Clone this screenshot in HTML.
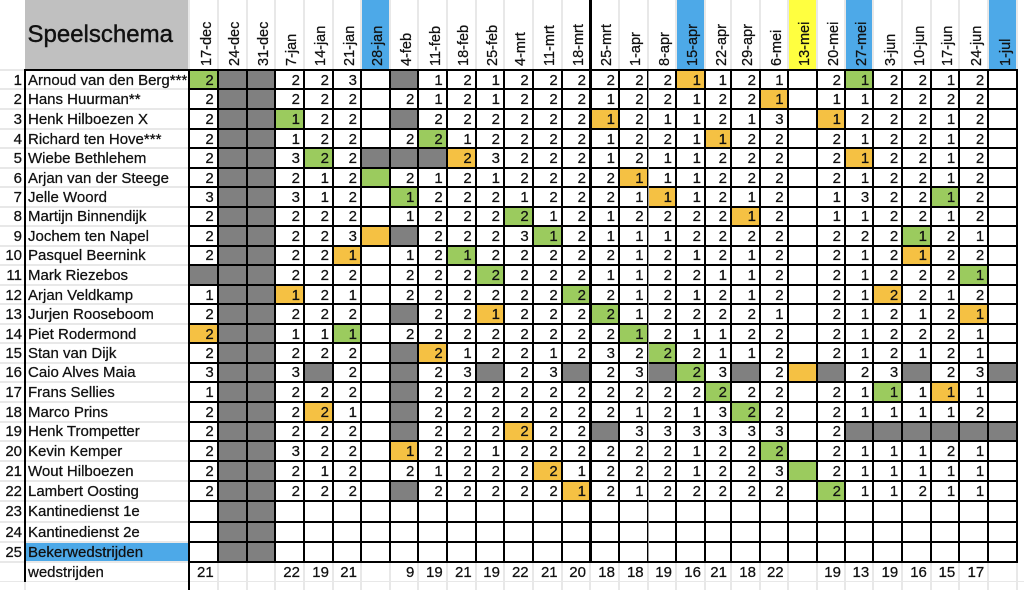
<!DOCTYPE html>
<html><head><meta charset="utf-8"><style>
*{margin:0;padding:0;box-sizing:border-box}
html,body{width:1024px;height:590px;overflow:hidden;background:#fff;font-family:"Liberation Sans",Arial,sans-serif;color:#111}
body{-webkit-text-stroke:0.25px #111}
.ab{position:absolute}
.cols{grid-template-columns:26.7px 27px 26.3px 27px 27px 26px 27px 26.3px 26.4px 27px 26.3px 26.7px 27px 26.3px 27px 26.7px 26.3px 27px 24px 27px 25.7px 27px 26.3px 26.3px 27px 26.7px 26.3px 27px 26.4px}
.rows{grid-template-rows:17.3px 18px 18px 17px 18px 17px 17.4px 17.3px 18px 17px 18px 17.3px 17.7px 17.3px 17.4px 17.6px 17.4px 18px 17.3px 18px 18px 18px 18.7px 18px 18px}
.d{position:absolute;left:188px;top:69px;width:829.7px;height:493.7px;padding:2px;background:#000;display:grid;gap:2px}
.d>*,.w>*{background:#fff;display:flex;align-items:center;justify-content:flex-end;padding-right:3px;padding-top:1px;font-size:15px;font-style:normal;font-weight:normal;text-decoration:none;line-height:1}
.d>u{background:#808080}
.d>em{background:#9bcb5e}
.d>b{background:#f5c143}
.h{position:absolute;left:188px;top:0;width:829.7px;height:69px;padding:0 2px;background:#e8e8e8;display:grid;column-gap:2px}
.h>div{position:relative;background:#fff}
.h>div.bl{background:#4da9e8}
.h>div.ye{background:#ffff40}
.h span{position:absolute;left:8.5px;top:66px;width:66px;height:17px;line-height:17px;font-size:14.5px;white-space:nowrap;transform-origin:0 0;transform:rotate(-90deg)}
.n{position:absolute;left:0;top:69px;width:188px;height:493.7px;padding:2px 0;background:#e8e8e8;display:grid;grid-template-columns:24px 162px;gap:2px}
.n>div{background:#fff;font-size:15px;white-space:nowrap;display:flex;align-items:center;line-height:1;padding-top:1px}
.n>div.r{justify-content:flex-end;padding-right:2px}
.n>div.t{padding-left:2px}
.n>div.be{background:#4da9e8}
.w{position:absolute;left:188px;top:562.7px;width:836px;height:27.3px;padding-left:2px;background:#e8e8e8;display:grid;column-gap:2px;row-gap:1px;grid-template-rows:18.3px 8px}
.w2{grid-template-columns:26.7px 27px 26.3px 27px 27px 26px 27px 26.3px 26.4px 27px 26.3px 26.7px 27px 26.3px 27px 26.7px 26.3px 27px 24px 27px 25.7px 27px 26.3px 26.3px 27px 26.7px 26.3px 27px 26.4px 1fr}
.wl{position:absolute;left:0;top:562.7px;width:188px;height:27.3px;background:#e8e8e8;display:grid;grid-template-columns:24px 162px;column-gap:2px;row-gap:1px;grid-template-rows:18.3px 8px}
.wl>div{background:#fff;font-size:15px;display:flex;align-items:center;padding-left:2px;padding-top:1px;line-height:1}
</style></head><body>

<div class="ab" style="left:25px;top:0;width:164px;height:69px;background:#c0c0c0"></div>
<div class="ab" style="left:27.5px;top:21px;font-size:24px;line-height:28px;white-space:nowrap;-webkit-text-stroke:0.4px #111">Speelschema</div>

<div class="h cols">
<div><span>17-dec</span></div><div><span>24-dec</span></div><div><span>31-dec</span></div><div><span>7-jan</span></div><div><span>14-jan</span></div><div><span>21-jan</span></div><div class="bl"><span>28-jan</span></div><div><span>4-feb</span></div><div><span>11-feb</span></div><div><span>18-feb</span></div><div><span>25-feb</span></div><div><span>4-mrt</span></div><div><span>11-mrt</span></div><div><span>18-mrt</span></div><div><span>25-mrt</span></div><div><span>1-apr</span></div><div><span>8-apr</span></div><div class="bl"><span>15-apr</span></div><div><span>22-apr</span></div><div><span>29-apr</span></div><div><span>6-mei</span></div><div class="ye"><span>13-mei</span></div><div><span>20-mei</span></div><div class="bl"><span>27-mei</span></div><div><span>3-jun</span></div><div><span>10-jun</span></div><div><span>17-jun</span></div><div><span>24-jun</span></div><div class="bl"><span>1-jul</span></div>
</div>

<div class="n rows">
<div class="r">1</div><div class="t">Arnoud van den Berg***</div>
<div class="r">2</div><div class="t">Hans Huurman**</div>
<div class="r">3</div><div class="t">Henk Hilboezen X</div>
<div class="r">4</div><div class="t">Richard ten Hove***</div>
<div class="r">5</div><div class="t">Wiebe Bethlehem</div>
<div class="r">6</div><div class="t">Arjan van der Steege</div>
<div class="r">7</div><div class="t">Jelle Woord</div>
<div class="r">8</div><div class="t">Martijn Binnendijk</div>
<div class="r">9</div><div class="t">Jochem ten Napel</div>
<div class="r">10</div><div class="t">Pasquel Beernink</div>
<div class="r">11</div><div class="t">Mark Riezebos</div>
<div class="r">12</div><div class="t">Arjan Veldkamp</div>
<div class="r">13</div><div class="t">Jurjen Rooseboom</div>
<div class="r">14</div><div class="t">Piet Rodermond</div>
<div class="r">15</div><div class="t">Stan van Dijk</div>
<div class="r">16</div><div class="t">Caio Alves Maia</div>
<div class="r">17</div><div class="t">Frans Sellies</div>
<div class="r">18</div><div class="t">Marco Prins</div>
<div class="r">19</div><div class="t">Henk Trompetter</div>
<div class="r">20</div><div class="t">Kevin Kemper</div>
<div class="r">21</div><div class="t">Wout Hilboezen</div>
<div class="r">22</div><div class="t">Lambert Oosting</div>
<div class="r">23</div><div class="t">Kantinedienst 1e</div>
<div class="r">24</div><div class="t">Kantinedienst 2e</div>
<div class="r">25</div><div class="t be">Bekerwedstrijden</div>
</div>

<div class="d cols rows">
<em>2</em><u></u><u></u><i>2</i><i>2</i><i>3</i><i></i><u></u><i>1</i><i>2</i><i>1</i><i>2</i><i>2</i><i>2</i><i>2</i><i>2</i><i>2</i><b>1</b><i>1</i><i>2</i><i>1</i><i></i><i>2</i><em>1</em><i>2</i><i>2</i><i>1</i><i>2</i><i></i>
<i>2</i><u></u><u></u><i>2</i><i>2</i><i>2</i><i></i><i>2</i><i>1</i><i>2</i><i>1</i><i>2</i><i>2</i><i>2</i><i>1</i><i>2</i><i>2</i><i>1</i><i>2</i><i>2</i><b>1</b><i></i><i>1</i><i>1</i><i>2</i><i>2</i><i>2</i><i>2</i><i></i>
<i>2</i><u></u><u></u><em>1</em><i>2</i><i>2</i><i></i><u></u><i>2</i><i>2</i><i>2</i><i>2</i><i>2</i><i>2</i><b>1</b><i>2</i><i>1</i><i>1</i><i>2</i><i>1</i><i>3</i><i></i><b>1</b><i>2</i><i>2</i><i>2</i><i>1</i><i>2</i><i></i>
<i>2</i><u></u><u></u><i>1</i><i>2</i><i>2</i><i></i><i>2</i><em>2</em><i>1</i><i>2</i><i>2</i><i>2</i><i>2</i><i>1</i><i>2</i><i>2</i><i>1</i><b>1</b><i>2</i><i>2</i><i></i><i>2</i><i>1</i><i>2</i><i>2</i><i>1</i><i>2</i><i></i>
<i>2</i><u></u><u></u><i>3</i><em>2</em><i>2</i><u></u><u></u><u></u><b>2</b><i>3</i><i>2</i><i>2</i><i>2</i><i>1</i><i>2</i><i>1</i><i>1</i><i>2</i><i>2</i><i>2</i><i></i><i>2</i><b>1</b><i>2</i><i>2</i><i>1</i><i>2</i><i></i>
<i>2</i><u></u><u></u><i>2</i><i>1</i><i>2</i><em></em><i>2</i><i>1</i><i>2</i><i>1</i><i>2</i><i>2</i><i>2</i><i>2</i><b>1</b><i>1</i><i>1</i><i>2</i><i>2</i><i>2</i><i></i><i>2</i><i>1</i><i>2</i><i>2</i><i>1</i><i>2</i><i></i>
<i>3</i><u></u><u></u><i>3</i><i>1</i><i>2</i><i></i><em>1</em><i>2</i><i>2</i><i>2</i><i>1</i><i>2</i><i>2</i><i>2</i><i>1</i><b>1</b><i>1</i><i>2</i><i>1</i><i>2</i><i></i><i>1</i><i>3</i><i>2</i><i>2</i><em>1</em><i>2</i><i></i>
<i>2</i><u></u><u></u><i>2</i><i>2</i><i>2</i><i></i><i>1</i><i>2</i><i>2</i><i>2</i><em>2</em><i>1</i><i>2</i><i>1</i><i>2</i><i>2</i><i>2</i><i>2</i><b>1</b><i>2</i><i></i><i>1</i><i>1</i><i>2</i><i>2</i><i>1</i><i>2</i><i></i>
<i>2</i><u></u><u></u><i>2</i><i>2</i><i>3</i><b></b><u></u><i>2</i><i>2</i><i>2</i><i>3</i><em>1</em><i>2</i><i>1</i><i>1</i><i>1</i><i>2</i><i>2</i><i>2</i><i>2</i><i></i><i>2</i><i>2</i><i>2</i><em>1</em><i>2</i><i>1</i><i></i>
<i>2</i><u></u><u></u><i>2</i><i>2</i><b>1</b><i></i><i>1</i><i>2</i><em>1</em><i>2</i><i>2</i><i>2</i><i>2</i><i>2</i><i>1</i><i>2</i><i>1</i><i>2</i><i>1</i><i>2</i><i></i><i>2</i><i>1</i><i>2</i><b>1</b><i>2</i><i>2</i><i></i>
<u></u><u></u><u></u><i>2</i><i>2</i><i>2</i><i></i><i>2</i><i>2</i><i>2</i><em>2</em><i>2</i><i>2</i><i>2</i><i>1</i><i>1</i><i>2</i><i>2</i><i>1</i><i>1</i><i>2</i><i></i><i>2</i><i>1</i><i>2</i><i>2</i><i>2</i><em>1</em><i></i>
<i>1</i><u></u><u></u><b>1</b><i>2</i><i>1</i><i></i><i>2</i><i>2</i><i>2</i><i>2</i><i>2</i><i>2</i><em>2</em><i>2</i><i>1</i><i>2</i><i>1</i><i>2</i><i>1</i><i>2</i><i></i><i>2</i><i>1</i><b>2</b><i>2</i><i>1</i><i>2</i><i></i>
<i>2</i><u></u><u></u><i>2</i><i>2</i><i>2</i><i></i><u></u><i>2</i><i>2</i><b>1</b><i>2</i><i>2</i><i>2</i><em>2</em><i>1</i><i>2</i><i>2</i><i>2</i><i>2</i><i>1</i><i></i><i>2</i><i>1</i><i>2</i><i>1</i><i>2</i><b>1</b><i></i>
<b>2</b><u></u><u></u><i>1</i><i>1</i><em>1</em><i></i><i>2</i><i>2</i><i>2</i><i>2</i><i>2</i><i>2</i><i>2</i><i>2</i><em>1</em><i>2</i><i>1</i><i>1</i><i>2</i><i>2</i><i></i><i>2</i><i>1</i><i>2</i><i>2</i><i>2</i><i>1</i><i></i>
<i>2</i><u></u><u></u><i>2</i><i>2</i><i>2</i><i></i><u></u><b>2</b><i>1</i><i>2</i><i>2</i><i>1</i><i>2</i><i>3</i><i>2</i><em>2</em><i>2</i><i>1</i><i>1</i><i>2</i><i></i><i>2</i><i>1</i><i>2</i><i>1</i><i>2</i><i>1</i><i></i>
<i>3</i><u></u><u></u><i>3</i><u></u><i>2</i><i></i><u></u><i>2</i><i>3</i><u></u><i>2</i><i>3</i><u></u><i>2</i><i>3</i><u></u><em>2</em><i>3</i><u></u><i>2</i><b></b><u></u><i>2</i><i>3</i><u></u><i>2</i><i>3</i><u></u>
<i>1</i><u></u><u></u><i>2</i><i>2</i><i>2</i><i></i><u></u><i>2</i><i>2</i><i>2</i><i>2</i><i>2</i><i>2</i><i>2</i><i>2</i><i>2</i><i>2</i><em>2</em><i>2</i><i>2</i><i></i><i>2</i><i>1</i><em>1</em><i>1</i><b>1</b><i>1</i><i></i>
<i>2</i><u></u><u></u><i>2</i><b>2</b><i>1</i><i></i><u></u><i>2</i><i>2</i><i>2</i><i>2</i><i>2</i><i>2</i><i>2</i><i>1</i><i>2</i><i>1</i><i>3</i><em>2</em><i>2</i><i></i><i>2</i><i>1</i><i>1</i><i>1</i><i>1</i><i>2</i><i></i>
<i>2</i><u></u><u></u><i>2</i><i>2</i><i>2</i><i></i><u></u><i>2</i><i>2</i><i>2</i><b>2</b><i>2</i><i>2</i><u></u><i>3</i><i>3</i><i>3</i><i>3</i><i>3</i><i>3</i><i></i><i>2</i><u></u><u></u><u></u><u></u><u></u><u></u>
<i>2</i><u></u><u></u><i>3</i><i>2</i><i>2</i><i></i><b>1</b><i>2</i><i>2</i><i>1</i><i>2</i><i>2</i><i>2</i><i>2</i><i>2</i><i>2</i><i>1</i><i>2</i><i>2</i><em>2</em><i></i><i>2</i><i>1</i><i>1</i><i>1</i><i>2</i><i>1</i><i></i>
<i>2</i><u></u><u></u><i>2</i><i>1</i><i>2</i><i></i><i>2</i><i>1</i><i>2</i><i>2</i><i>2</i><b>2</b><i>1</i><i>2</i><i>2</i><i>2</i><i>1</i><i>2</i><i>2</i><i>3</i><em></em><i>2</i><i>1</i><i>1</i><i>1</i><i>1</i><i>1</i><i></i>
<i>2</i><u></u><u></u><i>2</i><i>2</i><i>2</i><i></i><u></u><i>2</i><i>2</i><i>2</i><i>2</i><i>2</i><b>1</b><i>2</i><i>1</i><i>2</i><i>2</i><i>2</i><i>2</i><i>2</i><i></i><em>2</em><i>1</i><i>1</i><i>2</i><i>1</i><i>1</i><i></i>
<i></i><u></u><u></u><i></i><i></i><i></i><i></i><i></i><i></i><i></i><i></i><i></i><i></i><i></i><i></i><i></i><i></i><i></i><i></i><i></i><i></i><i></i><i></i><i></i><i></i><i></i><i></i><i></i><i></i>
<i></i><u></u><u></u><i></i><i></i><i></i><i></i><i></i><i></i><i></i><i></i><i></i><i></i><i></i><i></i><i></i><i></i><i></i><i></i><i></i><i></i><i></i><i></i><i></i><i></i><i></i><i></i><i></i><i></i>
<i></i><u></u><u></u><i></i><i></i><i></i><i></i><i></i><i></i><i></i><i></i><i></i><i></i><i></i><i></i><i></i><i></i><i></i><i></i><i></i><i></i><i></i><i></i><i></i><i></i><i></i><i></i><i></i><i></i>
</div>

<div class="wl">
<div></div><div>wedstrijden</div><div></div><div></div>
</div>
<div class="w w2">
<i>21</i><i></i><i></i><i>22</i><i>19</i><i>21</i><i></i><i>9</i><i>19</i><i>21</i><i>19</i><i>22</i><i>21</i><i>20</i><i>18</i><i>18</i><i>19</i><i>16</i><i>21</i><i>18</i><i>22</i><i></i><i>19</i><i>13</i><i>19</i><i>16</i><i>15</i><i>17</i><i></i><i></i>
<i></i><i></i><i></i><i></i><i></i><i></i><i></i><i></i><i></i><i></i><i></i><i></i><i></i><i></i><i></i><i></i><i></i><i></i><i></i><i></i><i></i><i></i><i></i><i></i><i></i><i></i><i></i><i></i><i></i><i></i>
</div>

<div class="ab" style="left:24px;top:69px;width:166px;height:2px;background:#000"></div>
<div class="ab" style="left:24px;top:69px;width:2px;height:513px;background:#000"></div>
<div class="ab" style="left:188px;top:560px;width:2px;height:30px;background:#000"></div>
<div class="ab" style="left:588.5px;top:0;width:3px;height:562px;background:#000"></div>
<div class="ab" style="left:648px;top:71px;width:1.2px;height:490px;background:#9a9a9a"></div>
</body></html>
